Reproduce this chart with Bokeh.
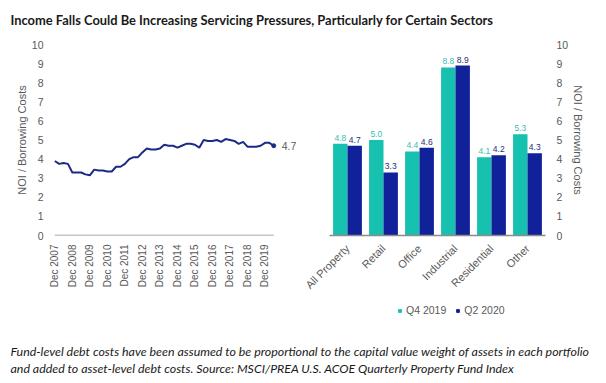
import math
from bokeh.plotting import figure
from bokeh.layouts import column, row
from bokeh.models import (ColumnDataSource, Range1d, FactorRange, FixedTicker,
                          Label, Legend, LegendItem)
from bokeh.transform import dodge
from bokeh.core.properties import value
from bokeh.embed import file_html
from bokeh.resources import INLINE

title_text = "Income Falls Could Be Increasing Servicing Pressures, Particularly for Certain Sectors"
footnote_lines = [
    "Fund-level debt costs have been assumed to be proportional to the capital value weight of assets in each portfolio",
    "and added to asset-level debt costs. Source: MSCI/PREA U.S. ACOE Quarterly Property Fund Index",
]
y_axis_label = "NOI / Borrowing Costs"

# Quarterly NOI / borrowing costs, Dec 2007 .. Jun 2020
noi_ratio = [3.9, 3.75, 3.8, 3.75, 3.3, 3.3, 3.3, 3.2, 3.15, 3.45,
             3.4, 3.4, 3.35, 3.35, 3.6, 3.6, 3.75, 4.0, 4.1, 4.1,
             4.35, 4.55, 4.5, 4.5, 4.55, 4.75, 4.7, 4.7, 4.6, 4.7,
             4.8, 4.8, 4.75, 4.6, 5.0, 4.95, 4.95, 5.0, 4.9, 5.05,
             5.0, 4.95, 4.8, 4.9, 4.65, 4.65, 4.65, 4.7, 4.85, 4.85,
             4.7]
year_labels = ["Dec 2007", "Dec 2008", "Dec 2009", "Dec 2010", "Dec 2011",
               "Dec 2012", "Dec 2013", "Dec 2014", "Dec 2015", "Dec 2016",
               "Dec 2017", "Dec 2018", "Dec 2019"]

sectors = ["All Property", "Retail", "Office", "Industrial", "Residential", "Other"]
q4_2019 = [4.8, 5.0, 4.4, 8.8, 4.1, 5.3]
q2_2020 = [4.7, 3.3, 4.6, 8.9, 4.2, 4.3]
series_names = ["Q4 2019", "Q2 2020"]
y_ticks = list(range(0, 11))

TEAL = "#17c1b0"
NAVY = "#11219a"
LINE = "#1c2a86"
GREY = "#595959"
AXIS = "#8c8c8c"
FONT = "Liberation Sans"


def style_common(p):
    p.outline_line_color = None
    p.xgrid.grid_line_color = None
    p.ygrid.grid_line_color = None
    p.background_fill_color = None
    p.border_fill_color = "white"


def style_axis(ax, size):
    ax.major_tick_line_color = None
    ax.minor_tick_line_color = None
    ax.major_tick_out = 0
    ax.major_tick_in = 0
    ax.minor_tick_out = 0
    ax.minor_tick_in = 0
    ax.major_label_text_font = FONT
    ax.major_label_text_font_size = size
    ax.major_label_text_color = GREY


# ---------- title ----------
pt = figure(width=606, height=36, x_range=Range1d(0, 1), y_range=Range1d(0, 1),
            x_axis_type=None, y_axis_type=None, toolbar_location=None,
            output_backend="svg", min_border=0)
pt.outline_line_color = None
pt.xgrid.grid_line_color = None
pt.ygrid.grid_line_color = None
pt.add_layout(Label(x=10, y=17, x_units="screen", y_units="screen", text=title_text,
                    text_font="Lato", text_font_style="bold",
                    text_font_size="12.9px", text_color="#1a1a1a",
                    text_baseline="middle", text_align="left"))

# ---------- left: line chart ----------
quarters = list(range(len(noi_ratio)))
tick_pos = [4 * i for i in range(len(year_labels))]

p1 = figure(width=298, height=262, x_range=Range1d(-0.3, 55.2), y_range=Range1d(0, 10),
            toolbar_location=None, output_backend="svg",
            min_border_left=53, min_border_right=2, min_border_top=8, min_border_bottom=59)
style_common(p1)
src1 = ColumnDataSource(dict(x=quarters, y=noi_ratio))
p1.segment(x0=quarters[0], y0=0, x1=quarters[-1], y1=0, line_color=AXIS, line_width=1.5)
p1.line("x", "y", source=src1, line_color=LINE, line_width=2)
p1.scatter(x=[quarters[-1]], y=[noi_ratio[-1]], size=4, color=LINE)
p1.text(x=[quarters[-1]], y=[noi_ratio[-1]], text=[f"{noi_ratio[-1]:.1f}"],
        x_offset=8, text_baseline="middle", text_align="left",
        text_font=value(FONT), text_font_size="10.5px", text_color=GREY)

p1.yaxis.ticker = FixedTicker(ticks=y_ticks)
p1.yaxis.axis_line_color = None
style_axis(p1.yaxis, "10.5px")
p1.yaxis.major_label_standoff = 10
p1.yaxis.axis_label = y_axis_label
p1.yaxis.axis_label_text_font = FONT
p1.yaxis.axis_label_text_font_style = "normal"
p1.yaxis.axis_label_text_font_size = "11px"
p1.yaxis.axis_label_text_color = GREY
p1.yaxis.axis_label_standoff = 1

p1.xaxis.ticker = FixedTicker(ticks=tick_pos)
p1.xaxis.major_label_overrides = {t: lbl for t, lbl in zip(tick_pos, year_labels)}
p1.xaxis.major_label_orientation = math.pi / 2
p1.xaxis.axis_line_color = None
style_axis(p1.xaxis, "10px")
p1.xaxis.major_label_standoff = 9

# ---------- right: bar chart ----------
src2 = ColumnDataSource(dict(
    cat=sectors, a=q4_2019, b=q2_2020,
    la=[f"{v:.1f}" for v in q4_2019], lb=[f"{v:.1f}" for v in q2_2020]))

p2 = figure(width=308, height=262, x_range=FactorRange(*sectors), y_range=Range1d(0, 10),
            toolbar_location=None, output_backend="svg", y_axis_location="right",
            min_border_left=31, min_border_right=61, min_border_top=8, min_border_bottom=59)
style_common(p2)
p2.x_range.range_padding = 0
ra = p2.vbar(x=dodge("cat", -0.2, range=p2.x_range), top="a", width=0.4, source=src2,
             fill_color=TEAL, line_color=None)
rb = p2.vbar(x=dodge("cat", 0.2, range=p2.x_range), top="b", width=0.4, source=src2,
             fill_color=NAVY, line_color=None)
p2.text(x=dodge("cat", -0.2, range=p2.x_range), y="a", text="la", source=src2,
        y_offset=-3, text_align="center", text_baseline="bottom",
        text_font=value(FONT), text_font_size="8.5px", text_color="#3cbcb0")
p2.text(x=dodge("cat", 0.2, range=p2.x_range), y="b", text="lb", source=src2,
        y_offset=-3, text_align="center", text_baseline="bottom",
        text_font=value(FONT), text_font_size="8.5px", text_color="#26307a")

p2.yaxis.ticker = FixedTicker(ticks=y_ticks)
p2.yaxis.axis_line_color = None
style_axis(p2.yaxis, "10.5px")
p2.yaxis.major_label_standoff = 11
p2.yaxis.axis_label = y_axis_label
p2.yaxis.axis_label_text_font = FONT
p2.yaxis.axis_label_text_font_style = "normal"
p2.yaxis.axis_label_text_font_size = "11px"
p2.yaxis.axis_label_text_color = GREY
p2.yaxis.axis_label_standoff = 1

p2.xaxis.axis_line_color = AXIS
p2.xaxis.axis_line_width = 1.5
style_axis(p2.xaxis, "11px")
p2.xaxis.major_label_orientation = math.pi / 4
p2.xaxis.major_label_standoff = 11

# ---------- legend + footnote ----------
pf = figure(width=606, height=85, x_range=Range1d(0, 1), y_range=Range1d(0, 1),
            x_axis_type=None, y_axis_type=None, toolbar_location=None,
            output_backend="svg", min_border=0)
pf.outline_line_color = None
pf.xgrid.grid_line_color = None
pf.ygrid.grid_line_color = None
# legend proxies: the series values fall outside this panel's 0..1 ranges,
# so nothing is drawn here except the legend swatches they carry
la_proxy = pf.scatter(x=q4_2019, y=q4_2019, marker="square", size=7,
                      fill_color=TEAL, line_color=TEAL)
lb_proxy = pf.scatter(x=q2_2020, y=q2_2020, marker="square", size=7,
                      fill_color=NAVY, line_color=NAVY)
legend = Legend(items=[LegendItem(label=series_names[0], renderers=[la_proxy]),
                       LegendItem(label=series_names[1], renderers=[lb_proxy])],
                orientation="horizontal", location=(396, 67),
                glyph_width=7, glyph_height=7, label_standoff=3, spacing=8,
                padding=0, margin=0, border_line_color=None, background_fill_alpha=0,
                label_text_font=FONT, label_text_font_size="10.5px",
                label_text_color=GREY, label_height=12)
pf.add_layout(legend, "center")
for i, line in enumerate(footnote_lines):
    pf.add_layout(Label(x=10, y=32 - 16.5 * i, x_units="screen", y_units="screen", text=line,
                        text_font="Lato", text_font_style="italic",
                        text_font_size="12.4px", text_color="#1a1a1a",
                        text_baseline="middle", text_align="left"))

layout = column(pt, row(p1, p2), pf)
open("out.html", "w").write(file_html(layout, INLINE))
